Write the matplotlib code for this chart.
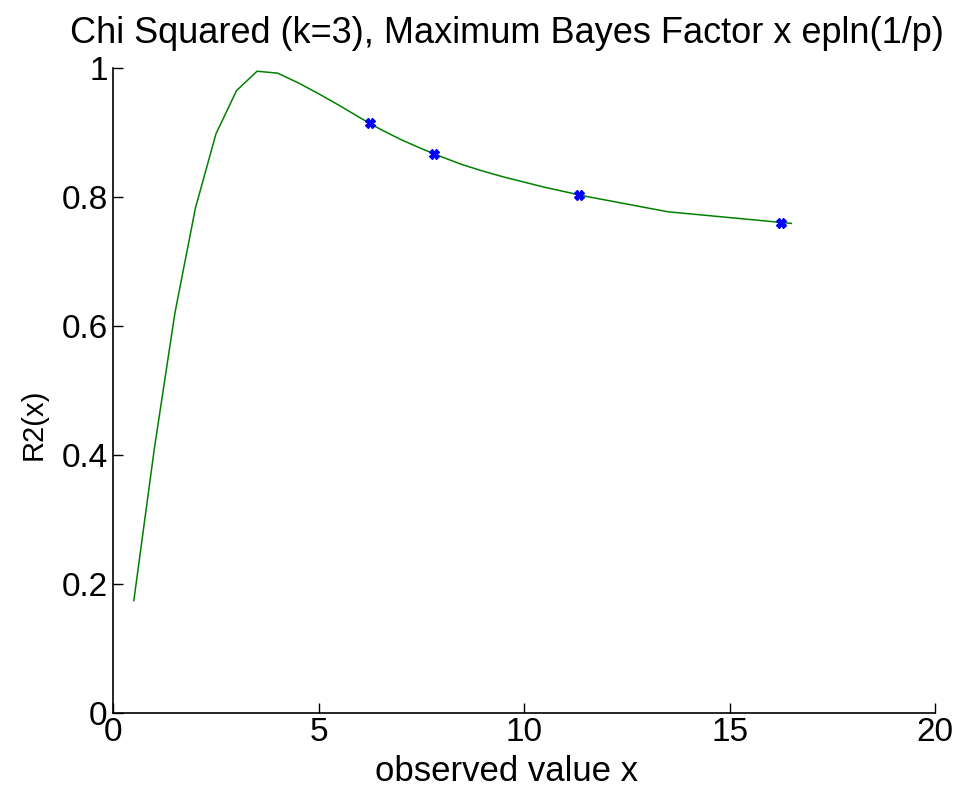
import numpy as np
import matplotlib.pyplot as plt

# curve R2(x)
x_vals = [0.5, 1.0, 1.5, 2.0, 2.5, 3.0, 3.5, 4.0, 4.5, 5.0, 5.5, 6.0, 6.5, 7.0, 7.5, 8.0,
          8.5, 9.0, 9.5, 10.0, 10.5, 11.0, 11.5, 12.0, 12.5, 13.0, 13.5, 14.0, 14.5,
          15.0, 15.5, 16.0, 16.5]
r2_vals = [0.174, 0.41, 0.62, 0.783, 0.898, 0.965, 0.995, 0.992, 0.977, 0.960, 0.942,
           0.923, 0.905, 0.889, 0.875, 0.862, 0.850, 0.840, 0.831, 0.823, 0.815, 0.808,
           0.801, 0.795, 0.789, 0.783, 0.777, 0.774, 0.771, 0.768, 0.765, 0.762, 0.759]

# marked points
mark_x = [6.24, 7.81, 11.33, 16.25]
mark_y = [0.914, 0.867, 0.803, 0.760]

x_ticks = [0, 5, 10, 15, 20]
y_ticks = [0, 0.2, 0.4, 0.6, 0.8, 1]
y_ticklabels = ['0', '0.2', '0.4', '0.6', '0.8', '1']

plt.rcParams['font.family'] = ['Liberation Sans', 'DejaVu Sans']

fig = plt.figure(figsize=(9.6, 8), dpi=100)
ax = fig.add_axes([0.118, 0.109, 0.856, 0.806])

ax.plot(x_vals, r2_vals, color='#008000', lw=1.1)
ax.plot(mark_x, mark_y, 'X', color='#0000ff', ms=7, mec='#0000ff')

ax.set_xlim(0, 20)
ax.set_ylim(0, 1)
ax.set_xticks(x_ticks)
ax.set_yticks(y_ticks)
ax.set_yticklabels(y_ticklabels)

for s in ['top', 'right']:
    ax.spines[s].set_visible(False)
for s in ['left', 'bottom']:
    ax.spines[s].set_linewidth(1.2)

ax.tick_params(direction='in', length=7, width=1.0, labelsize=24)
ax.tick_params(axis='x', pad=3)
ax.tick_params(axis='y', pad=4)

ax.set_title('Chi Squared (k=3), Maximum Bayes Factor x epln(1/p)', fontsize=26, pad=18, x=0.479)
ax.set_xlabel('observed value x', fontsize=25, labelpad=5)
ax.xaxis.label.set_x(0.479)
ax.set_ylabel('R2(x)', fontsize=21, labelpad=10)
ax.yaxis.label.set_y(0.447)

fig.savefig('out.png', dpi=100)
